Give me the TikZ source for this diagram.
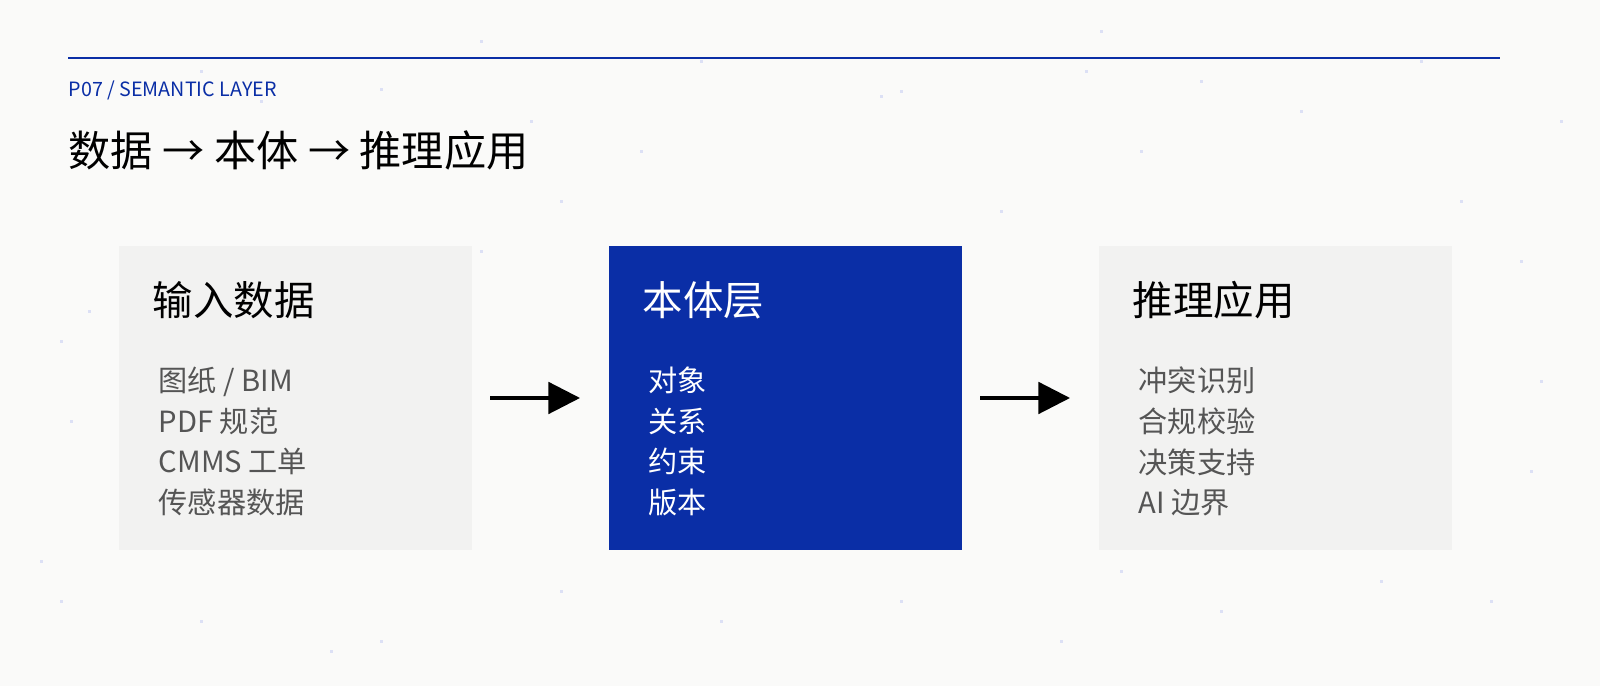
\documentclass[tikz,border=0pt]{standalone}
\usepackage{fontspec}
\setmainfont{Noto Sans CJK SC}[Scale=1]
\usetikzlibrary{arrows.meta}
\definecolor{bg}{HTML}{FAFAF9}
\definecolor{navy}{HTML}{0A2EA6}
\definecolor{boxg}{HTML}{F2F2F1}
\definecolor{txt}{HTML}{555555}
\definecolor{dotc}{HTML}{DCE0F5}
\tikzset{
  head/.style={anchor=west,font=\fontsize{11.5}{13}\selectfont\addfontfeature{Weight=Light}},
  item/.style={anchor=north west,align=left,font=\fontsize{8.3}{11.6}\selectfont,text=txt},
  box/.style={fill=boxg,draw=none,minimum width=3.53cm,minimum height=3.04cm,inner sep=0pt},
  arr/.style={line width=0.9pt,-{Triangle[length=9pt,width=9pt]}},
}
\begin{document}
\begin{tikzpicture}[x=0.01cm,y=-0.01cm]
\fill[bg] (0,0) rectangle (1600,686);
\useasboundingbox (0,0) rectangle (1600,686);
\foreach \x/\y in {200/70,260/100,380/88,530/120,700/60,880/95,1085/70,1140/150,1300/110,1420/60,1460/200,1560/120,60/340,88/310,1520/260,1530/470,1490/600,200/620,380/640,560/590,720/620,900/600,1060/640,1220/610,1380/580,40/560,480/250,1000/210,560/200,900/90,640/150,1200/80,330/650,1120/570,70/420,1540/380,1100/30,480/40,60/600}
  \fill[dotc] (\x,\y) rectangle ++(3,3);
\draw[navy,line width=0.8pt] (68,58) -- (1500,58);
\node[anchor=west,text=navy,font=\fontsize{5.6}{6}\selectfont,inner sep=0pt] (tag) at (68,90) {P07 / SEMANTIC LAYER};
\node[anchor=west,inner sep=0pt,font=\fontsize{12}{13}\selectfont\addfontfeature{Weight=Light}] (title) at (68,150) {数据 {\addfontfeature{Weight=Bold}→} 本体 {\addfontfeature{Weight=Bold}→} 推理应用};
\node[box,anchor=north west] (b1) at (118,245) {};
\node[box,anchor=north west,fill=navy] (b2) at (608,245) {};
\node[box,anchor=north west] (b3) at (1098,245) {};
\node[head,inner sep=0pt] (h1) at (152,300) {输入数据};
\node[head,inner sep=0pt,text=white] (h2) at (642,300) {本体层};
\node[head,inner sep=0pt] (h3) at (1132,300) {推理应用};
\node[item,inner sep=0pt] (i1) at (158,366) {图纸 / BIM\\PDF 规范\\CMMS 工单\\传感器数据};
\node[item,inner sep=0pt,text=white] (i2) at (648,366) {对象\\关系\\约束\\版本};
\node[item,inner sep=0pt] (i3) at (1138,366) {冲突识别\\合规校验\\决策支持\\AI 边界};
\coordinate (a1s) at (490,398); \coordinate (a1e) at (580,398);
\coordinate (a2s) at (980,398); \coordinate (a2e) at (1070,398);
\draw[arr] (a1s) -- (a1e);
\draw[arr] (a2s) -- (a2e);
\end{tikzpicture}
\end{document}
